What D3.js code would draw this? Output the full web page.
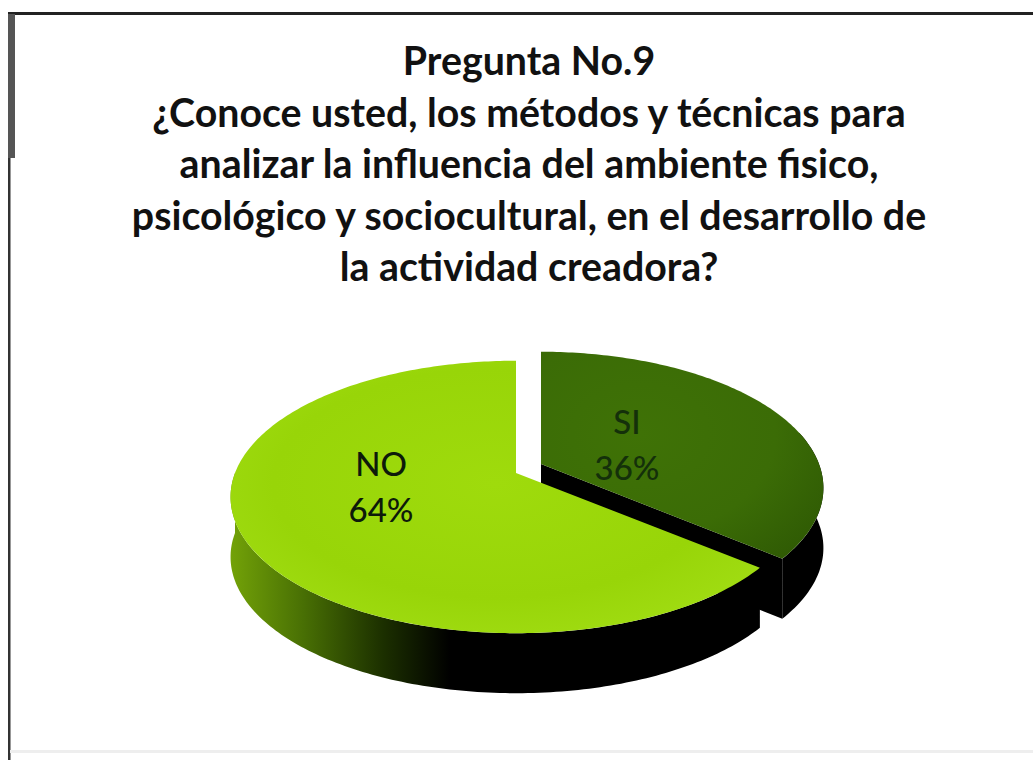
<!DOCTYPE html>
<html>
<head>
<meta charset="utf-8">
<script src="https://cdn.jsdelivr.net/npm/d3@7/dist/d3.min.js"></script>
<style>
html,body{margin:0;padding:0;background:#fff;overflow:hidden}
text{font-family:Lato,"Open Sans",sans-serif}
</style>
</head>
<body>
<svg id="chart" width="1033" height="760"></svg>
<script>
const categories = ["SI", "NO"];
const shares = [36, 64];
const titleLines = [
  "Pregunta No.9",
  "¿Conoce usted, los métodos y técnicas para",
  "analizar la influencia del ambiente fisico,",
  "psicológico y sociocultural, en el desarrollo de",
  "la actividad creadora?"
];

const svg = d3.select("#chart");
const defs = svg.append("defs");

function gradient(id, tag, attrs, stops) {
  const g = defs.append(tag).attr("id", id);
  Object.entries(attrs).forEach(([k, v]) => g.attr(k, v));
  stops.forEach(([o, c]) => g.append("stop").attr("offset", o).attr("stop-color", c));
}
gradient("noTop", "radialGradient", {cx: "0.5", cy: "0.45", r: "0.6"},
  [[0, "#9fdb0c"], [0.7, "#98d508"], [1, "#a0dc12"]]);
gradient("siTop", "radialGradient", {cx: "0.35", cy: "0.4", r: "0.8"},
  [[0, "#3f7206"], [0.6, "#3b6c06"], [1, "#2f5a04"]]);
gradient("noSide", "linearGradient", {gradientUnits: "userSpaceOnUse", x1: 225, x2: 450, y1: 0, y2: 0},
  [[0, "#76a608"], [0.35, "#486f04"], [0.7, "#1c3000"], [1, "#000"]]);

// Frame: heavy top rule and left rule, faint rule at the foot
const frame = svg.append("g");
frame.append("rect").attr("x", 8).attr("y", 12).attr("width", 1025).attr("height", 3).attr("fill", "#222");
frame.append("rect").attr("x", 8).attr("y", 14).attr("width", 7).attr("height", 144).attr("fill", "#555");
frame.append("rect").attr("x", 8).attr("y", 158).attr("width", 2.5).attr("height", 602).attr("fill", "#333");
frame.append("rect").attr("x", 10).attr("y", 750).attr("width", 1023).attr("height", 3).attr("fill", "#eee");

// Title
svg.append("g").selectAll("text").data(titleLines).join("text")
  .attr("x", 529)
  .attr("y", (d, i) => 75 + i * 51.5)
  .attr("text-anchor", "middle")
  .attr("font-size", 39.3)
  .attr("font-weight", 700)
  .attr("fill", "#111")
  .text(d => d);

// Perspective disc: the near edge of the pie projects larger than the far edge
const ry = 132, tilt = 0.176, depth = 60;
const slices = d3.pie().sort(null)(shares);
const wedgeGeometry = {
  SI: {c: [541, 464], rx: 278},
  NO: {c: [516, 473], rx: 281}
};

function rim(angle, g) {
  const toViewer = -Math.cos(angle);
  const scale = 1 / (1 - tilt * toViewer);
  return [g.c[0] + g.rx * Math.sin(angle) * scale, g.c[1] + ry * toViewer * scale];
}
function arcPoints(a0, a1, g) {
  const n = Math.ceil(Math.abs(a1 - a0) * 60);
  return d3.range(n + 1).map(i => rim(a0 + (a1 - a0) * i / n, g));
}
const line = d3.line();
const drop = ([x, y]) => [x, y + depth];

function wedgeTop(slice, g) {
  return line([g.c, ...arcPoints(slice.startAngle, slice.endAngle, g)]) + "Z";
}
function outerWall(a0, a1, g) {
  const p = arcPoints(a0, a1, g);
  return line([...p, ...p.map(drop).reverse()]) + "Z";
}

const pie = svg.append("g");
const [si, no] = slices;
const gs = wedgeGeometry.SI, gn = wedgeGeometry.NO;
const half = Math.PI / 2;

// Slices stacked back to front, the detached one first
pie.append("path").attr("d", outerWall(half - 0.25, si.endAngle, gs)).attr("fill", "#000");
pie.append("path").attr("d", (() => {
  const e = rim(si.endAngle, gs);
  return line([gs.c, e, drop(e), drop(gs.c)]) + "Z";
})()).attr("fill", "#000");
pie.append("path").attr("d", wedgeTop(si, gs)).attr("fill", "url(#siTop)");

pie.append("path").attr("d", outerWall(no.startAngle, Math.PI * 1.5, gn)).attr("fill", "url(#noSide)");
pie.append("path").attr("d", wedgeTop(no, gn)).attr("fill", "url(#noTop)");

// Slice labels
const labelAnchors = {SI: [627, 434], NO: [381, 476]};
const labels = svg.append("g").selectAll("g").data(slices).join("g")
  .attr("transform", (d, i) => `translate(${labelAnchors[categories[i]]})`);
labels.append("text").attr("text-anchor", "middle").attr("font-size", 33).attr("font-weight", 500)
  .attr("fill", (d, i) => i === 0 ? "#14300a" : "#0d1a0a").text((d, i) => categories[i]);
labels.append("text").attr("text-anchor", "middle").attr("y", 46).attr("font-size", 33).attr("font-weight", 500)
  .attr("fill", (d, i) => i === 0 ? "#14300a" : "#0d1a0a").text((d, i) => shares[i] + "%");
</script>
</body>
</html>
